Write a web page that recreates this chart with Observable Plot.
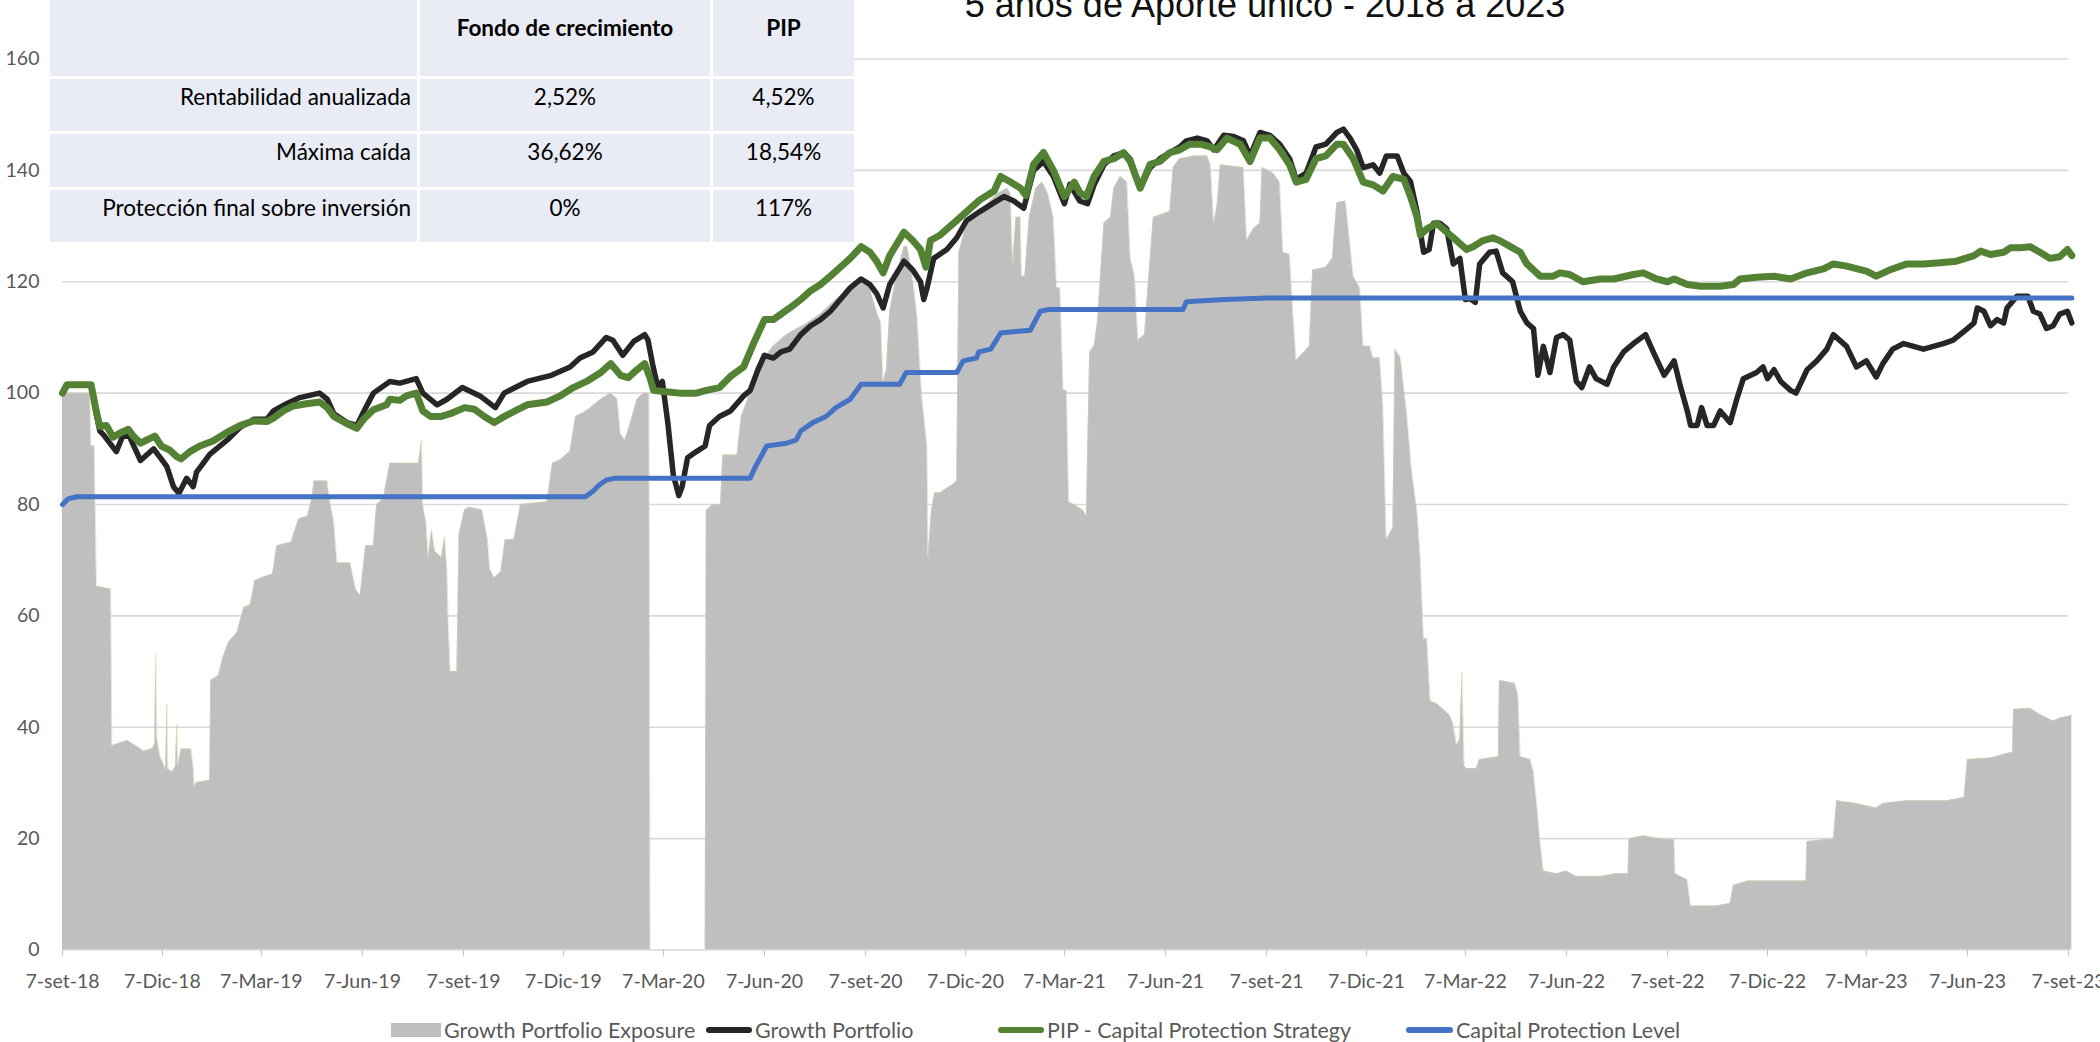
<!DOCTYPE html>
<html>
<head>
<meta charset="utf-8">
<script src="https://cdn.jsdelivr.net/npm/d3@7"></script>
<script src="https://cdn.jsdelivr.net/npm/@observablehq/plot@0.6"></script>
<style>
  body { margin: 0; background: #fff; }
  #wrap { position: relative; width: 2100px; height: 1042px; overflow: hidden; font-family: Lato, "Open Sans", sans-serif; background: #fff; }
  #chart { position: absolute; left: 0; top: 0; }
  #title { position: absolute; left: 865px; width: 800px; top: -13px; text-align: center; font-family: "Liberation Sans", Arial, sans-serif; font-size: 36px; line-height: 36px; color: #111; white-space: nowrap; }
  #table { position: absolute; left: 50px; top: 0; display: grid; grid-template-columns: 367px 290px 141px; grid-template-rows: 76px 52px 53px 52px; gap: 3px; background: #fff; padding: 0 0 3px 0; }
  #table div { background: #e9ebf5; display: flex; align-items: center; font-size: 22.5px; color: #000; }
  #table .lbl { justify-content: flex-end; padding-right: 6px; padding-bottom: 18px; }
  #table .val { justify-content: center; padding-bottom: 18px; }
  #table .hdr { justify-content: center; font-weight: bold; padding-bottom: 22px; }
  .leg { position: absolute; top: 1015px; height: 30px; font-size: 21.5px; color: #595959; white-space: nowrap; line-height: 30px; }
  .sw { position: absolute; }
</style>
</head>
<body>
<div id="wrap">
  <div id="chart"></div>
  <div id="table"></div>
  <div id="title"></div>
  <div id="legend"></div>
</div>
<script>
// ---------- data ----------
const chartTitle = "5 años de Aporte único - 2018 a 2023";

const tickDates = ["2018-09-07","2018-12-07","2019-03-07","2019-06-07","2019-09-07","2019-12-07","2020-03-07","2020-06-07","2020-09-07","2020-12-07","2021-03-07","2021-06-07","2021-09-07","2021-12-07","2022-03-07","2022-06-07","2022-09-07","2022-12-07","2023-03-07","2023-06-07","2023-09-07"];
const tickLabels = ["7-set-18","7-Dic-18","7-Mar-19","7-Jun-19","7-set-19","7-Dic-19","7-Mar-20","7-Jun-20","7-set-20","7-Dic-20","7-Mar-21","7-Jun-21","7-set-21","7-Dic-21","7-Mar-22","7-Jun-22","7-set-22","7-Dic-22","7-Mar-23","7-Jun-23","7-set-23"];
const yTicks = [0,20,40,60,80,100,120,140,160];

const seriesNames = ["Growth Portfolio Exposure","Growth Portfolio","PIP - Capital Protection Strategy","Capital Protection Level"];
const seriesColors = ["#bfbfbf","#262626","#548235","#4472c4"];

const tableHeader = ["", "Fondo de crecimiento", "PIP"];
const tableRowLabels = ["Rentabilidad anualizada","Máxima caída","Protección final sobre inversión"];
const tableFondo = ["2,52%","36,62%","0%"];
const tablePip = ["4,52%","18,54%","117%"];

const exposureSeries = [["2018-09-07",100],["2018-10-02",100],["2018-10-03",90.5],["2018-10-06",90.5],["2018-10-08",65.3],["2018-10-21",64.8],["2018-10-22",36.7],["2018-11-05",37.6],["2018-11-15",36.4],["2018-11-20",35.7],["2018-11-28",36.2],["2018-11-30",37],["2018-12-01",53],["2018-12-02",38],["2018-12-05",34.6],["2018-12-10",32.5],["2018-12-11",44.2],["2018-12-12",32.5],["2018-12-16",32],["2018-12-19",33],["2018-12-20",40.6],["2018-12-21",33],["2018-12-24",36.1],["2019-01-02",36.1],["2019-01-04",33],["2019-01-05",29.3],["2019-01-07",30.1],["2019-01-19",30.5],["2019-01-20",48.4],["2019-01-27",49.3],["2019-01-31",52.5],["2019-02-05",55.2],["2019-02-13",57],["2019-02-19",61.5],["2019-02-25",62],["2019-03-01",66.3],["2019-03-08",66.9],["2019-03-17",67.5],["2019-03-18",68.4],["2019-03-21",72.6],["2019-04-03",73.2],["2019-04-10",77.4],["2019-04-18",77.9],["2019-04-22",81],["2019-04-24",84.2],["2019-05-06",84.2],["2019-05-08",81],["2019-05-12",76.8],["2019-05-15",69.5],["2019-05-27",69.5],["2019-06-01",64.7],["2019-06-05",63.7],["2019-06-10",72.6],["2019-06-17",72.6],["2019-06-20",80],["2019-06-26",81],["2019-07-02",87.4],["2019-07-28",87.4],["2019-07-31",91.6],["2019-08-01",80],["2019-08-04",76.8],["2019-08-06",70.5],["2019-08-09",75.5],["2019-08-12",71.6],["2019-08-18",70.5],["2019-08-21",74.2],["2019-08-23",68.4],["2019-08-24",60],["2019-08-26",50],["2019-09-01",50],["2019-09-03",74.7],["2019-09-08",79],["2019-09-12",79.5],["2019-09-24",79],["2019-09-29",73.7],["2019-10-01",68.4],["2019-10-05",66.8],["2019-10-11",67.9],["2019-10-15",73.7],["2019-10-23",73.7],["2019-10-29",80],["2019-11-22",80.5],["2019-11-27",87.4],["2019-12-04",88],["2019-12-13",89.5],["2019-12-18",95.8],["2019-12-28",96.8],["2020-01-10",98.9],["2020-01-19",100],["2020-01-25",98.9],["2020-01-28",92.6],["2020-02-01",91.6],["2020-02-06",94.7],["2020-02-12",98.9],["2020-02-18",100],["2020-02-23",100],["2020-02-24",0],["2020-04-14",0],["2020-04-15",78.9],["2020-04-21",80],["2020-04-28",80],["2020-04-30",88.9],["2020-05-13",88.9],["2020-05-17",95.8],["2020-05-21",97.9],["2020-06-03",105.3],["2020-06-15",108.4],["2020-06-27",110.5],["2020-07-16",112.6],["2020-07-28",114.2],["2020-08-11",116.8],["2020-08-24",118.9],["2020-09-03",121],["2020-09-11",118.9],["2020-09-17",114.7],["2020-09-21",112.6],["2020-09-23",102.1],["2020-09-26",104.2],["2020-09-29",114.7],["2020-10-05",121],["2020-10-12",126.3],["2020-10-15",126.3],["2020-10-19",122.1],["2020-10-24",113.7],["2020-10-28",100],["2020-11-02",90.5],["2020-11-03",70.5],["2020-11-06",78.9],["2020-11-09",82.1],["2020-11-14",82.1],["2020-11-26",83.7],["2020-11-29",84.2],["2020-12-01",125.3],["2020-12-08",130.5],["2020-12-20",132.6],["2021-01-05",135.8],["2021-01-14",136.8],["2021-01-17",135.8],["2021-01-19",123.2],["2021-01-22",131.6],["2021-01-26",131.6],["2021-01-27",121],["2021-01-30",121],["2021-02-03",131.6],["2021-02-09",136.8],["2021-02-15",137.9],["2021-02-20",135.8],["2021-02-25",131.6],["2021-02-28",118.9],["2021-03-03",118.9],["2021-03-06",100.5],["2021-03-09",100.5],["2021-03-11",80.5],["2021-03-24",79],["2021-03-27",77.9],["2021-03-30",107.4],["2021-04-03",108.4],["2021-04-06",112.6],["2021-04-12",130.5],["2021-04-18",131.6],["2021-04-21",136.8],["2021-04-27",138.9],["2021-05-03",137.9],["2021-05-06",124.2],["2021-05-10",121],["2021-05-13",109.5],["2021-05-19",110.5],["2021-05-22",118.9],["2021-05-27",131.6],["2021-06-11",132.6],["2021-06-14",140.5],["2021-06-20",142.1],["2021-07-03",142.6],["2021-07-15",142.6],["2021-07-18",141],["2021-07-21",130.5],["2021-07-24",133.7],["2021-07-27",141],["2021-08-17",140.5],["2021-08-20",127.4],["2021-08-26",129.5],["2021-09-01",130.5],["2021-09-03",140.5],["2021-09-13",139.5],["2021-09-19",137.9],["2021-09-22",125.3],["2021-09-28",124.9],["2021-10-01",114.7],["2021-10-04",105.8],["2021-10-16",108.4],["2021-10-19",122.1],["2021-10-31",122.6],["2021-11-06",124.2],["2021-11-10",134.2],["2021-11-18",134.5],["2021-11-25",121],["2021-12-01",118.9],["2021-12-04",108.4],["2021-12-10",108.4],["2021-12-13",106.3],["2021-12-19",106.3],["2021-12-22",97.9],["2021-12-25",73.7],["2021-12-31",75.8],["2022-01-02",107.9],["2022-01-07",106.3],["2022-01-10",101],["2022-01-13",95.8],["2022-01-17",86.3],["2022-01-22",78.9],["2022-01-25",70.5],["2022-01-28",55.8],["2022-01-31",56],["2022-02-03",44.7],["2022-02-09",44.2],["2022-02-15",43.2],["2022-02-21",42.1],["2022-02-24",40.5],["2022-02-27",36.8],["2022-03-02",37.8],["2022-03-04",50],["2022-03-06",33],["2022-03-08",32.6],["2022-03-17",32.6],["2022-03-20",34.2],["2022-04-06",34.7],["2022-04-07",48.4],["2022-04-21",47.9],["2022-04-24",45.8],["2022-04-26",34.7],["2022-05-05",34.2],["2022-05-08",32.1],["2022-05-11",26.3],["2022-05-14",19.5],["2022-05-17",14.2],["2022-05-29",13.7],["2022-06-07",14.2],["2022-06-16",13.2],["2022-07-08",13.2],["2022-07-22",13.7],["2022-08-02",13.7],["2022-08-03",20],["2022-08-16",20.5],["2022-08-31",20],["2022-09-13",19.8],["2022-09-14",13.7],["2022-09-25",12.6],["2022-09-28",7.9],["2022-10-07",7.9],["2022-10-22",7.9],["2022-11-03",8.4],["2022-11-06",11.6],["2022-11-19",12.4],["2022-12-01",12.4],["2023-01-11",12.4],["2023-01-12",19.5],["2023-02-05",20],["2023-02-08",26.8],["2023-02-26",26.3],["2023-03-16",25.5],["2023-03-22",26.3],["2023-04-13",26.8],["2023-05-19",26.8],["2023-06-04",27.4],["2023-06-07",34.2],["2023-06-28",34.5],["2023-07-13",35.3],["2023-07-18",35.5],["2023-07-19",43.2],["2023-08-03",43.4],["2023-08-12",42.3],["2023-08-24",41.1],["2023-08-30",41.6],["2023-09-10",42.1]];

const growthSeries = [["2018-09-07",100],["2018-09-11",101.5],["2018-10-03",101.5],["2018-10-08",96],["2018-10-11",93.2],["2018-10-14",92.6],["2018-10-26",89.5],["2018-11-01",92.4],["2018-11-07",92.2],["2018-11-17",87.9],["2018-11-29",90],["2018-12-05",88.4],["2018-12-11",86.8],["2018-12-17",83.2],["2018-12-22",82],["2018-12-29",84.7],["2019-01-04",83.2],["2019-01-07",85.8],["2019-01-13",87.4],["2019-01-19",89],["2019-02-04",91.6],["2019-02-16",93.9],["2019-02-28",95.3],["2019-03-12",95.3],["2019-03-18",96.8],["2019-03-30",98.1],["2019-04-11",99.2],["2019-04-29",100],["2019-05-06",98.9],["2019-05-12",96.3],["2019-05-24",94.7],["2019-06-02",94.2],["2019-06-08",96.6],["2019-06-17",100],["2019-07-02",102.1],["2019-07-11",101.8],["2019-07-26",102.6],["2019-08-01",100],["2019-08-14",97.9],["2019-08-23",98.9],["2019-09-06",101],["2019-09-22",99.5],["2019-10-06",97.4],["2019-10-14",100],["2019-11-04",102.1],["2019-11-26",103.2],["2019-12-13",104.7],["2019-12-22",106.3],["2020-01-03",107.4],["2020-01-15",110],["2020-01-21",109.5],["2020-01-30",106.8],["2020-02-09",109.3],["2020-02-19",110.5],["2020-02-22",109.5],["2020-02-26",105.3],["2020-03-02",101],["2020-03-06",102.1],["2020-03-11",94.7],["2020-03-16",85.3],["2020-03-21",81.6],["2020-03-24",83.2],["2020-03-29",88.4],["2020-04-06",89.5],["2020-04-14",90.5],["2020-04-18",94.2],["2020-04-27",95.8],["2020-05-07",96.8],["2020-05-19",99.5],["2020-05-25",100.5],["2020-06-01",104.2],["2020-06-07",106.8],["2020-06-15",106.3],["2020-06-22",107.4],["2020-06-30",107.9],["2020-07-10",110.5],["2020-07-19",112.1],["2020-07-28",113.2],["2020-08-06",114.7],["2020-08-15",116.8],["2020-08-24",118.9],["2020-09-03",120.5],["2020-09-11",119.5],["2020-09-17",117.9],["2020-09-23",115.3],["2020-09-29",119.5],["2020-10-12",123.7],["2020-10-20",122.1],["2020-10-27",120],["2020-10-30",116.8],["2020-11-02",118.9],["2020-11-08",124.2],["2020-11-20",125.8],["2020-11-29",127.9],["2020-12-08",131],["2020-12-20",132.6],["2021-01-02",134.2],["2021-01-11",135.3],["2021-01-20",134.5],["2021-01-29",133.2],["2021-02-07",140],["2021-02-16",141.6],["2021-02-25",138.9],["2021-03-07",134],["2021-03-12",137.5],["2021-03-21",134.5],["2021-03-28",134],["2021-04-03",137.4],["2021-04-12",141],["2021-04-21",142.6],["2021-04-30",143.2],["2021-05-06",142],["2021-05-15",136.8],["2021-05-24",140.5],["2021-06-02",142.1],["2021-06-11",143.2],["2021-06-20",144.2],["2021-06-26",145.3],["2021-07-06",145.8],["2021-07-15",145.3],["2021-07-21",143.7],["2021-07-30",146.3],["2021-08-08",146.1],["2021-08-17",145.3],["2021-08-23",142.6],["2021-09-01",146.8],["2021-09-10",146.3],["2021-09-19",144.7],["2021-09-28",142.1],["2021-10-04",138.4],["2021-10-13",139.5],["2021-10-22",144.2],["2021-10-31",144.7],["2021-11-10",146.8],["2021-11-16",147.4],["2021-11-22",145.8],["2021-11-28",143.7],["2021-12-04",140.5],["2021-12-13",141],["2021-12-19",139.5],["2021-12-25",142.6],["2022-01-04",142.6],["2022-01-10",139.5],["2022-01-16",138],["2022-01-22",132.6],["2022-01-28",125.3],["2022-02-02",125.8],["2022-02-06",130.5],["2022-02-12",130.5],["2022-02-18",129.5],["2022-02-24",123.2],["2022-03-02",124.2],["2022-03-07",116.8],["2022-03-11",117],["2022-03-16",116.3],["2022-03-20",123.2],["2022-03-29",125.3],["2022-04-04",125.5],["2022-04-10",121.6],["2022-04-19",120],["2022-04-26",114.7],["2022-05-02",112.6],["2022-05-08",111.6],["2022-05-12",103.2],["2022-05-17",108.4],["2022-05-23",103.7],["2022-05-29",110],["2022-06-04",110.5],["2022-06-10",109.5],["2022-06-16",102.1],["2022-06-21",101],["2022-06-28",104.7],["2022-07-04",102.6],["2022-07-14",101.6],["2022-07-20",104.7],["2022-07-29",107.4],["2022-08-07",108.9],["2022-08-18",110.5],["2022-08-25",107.4],["2022-09-04",103.2],["2022-09-13",105.8],["2022-09-19",101],["2022-09-25",96.8],["2022-09-28",94.2],["2022-10-04",94.2],["2022-10-08",97.4],["2022-10-13",94.2],["2022-10-19",94.2],["2022-10-25",96.8],["2022-11-03",94.7],["2022-11-09",98.9],["2022-11-15",102.6],["2022-11-27",103.7],["2022-12-03",104.7],["2022-12-07",102.6],["2022-12-13",104.2],["2022-12-19",102.1],["2022-12-28",100.5],["2023-01-02",100],["2023-01-12",104.2],["2023-01-21",105.8],["2023-01-30",107.9],["2023-02-05",110.5],["2023-02-17",108.4],["2023-02-26",104.7],["2023-03-07",105.8],["2023-03-16",102.9],["2023-03-22",105.3],["2023-03-31",107.9],["2023-04-10",108.9],["2023-04-28",107.9],["2023-05-16",108.9],["2023-05-25",109.5],["2023-06-07",111.6],["2023-06-13",112.6],["2023-06-16",115.3],["2023-06-22",114.7],["2023-06-28",112.1],["2023-07-04",113.2],["2023-07-10",112.6],["2023-07-13",115.3],["2023-07-22",117.4],["2023-08-01",117.4],["2023-08-06",114.7],["2023-08-12",114.2],["2023-08-18",111.6],["2023-08-24",112.1],["2023-08-30",114.2],["2023-09-06",114.7],["2023-09-10",112.6]];

const pipSeries = [["2018-09-07",100],["2018-09-11",101.5],["2018-10-03",101.5],["2018-10-08",96.5],["2018-10-11",94],["2018-10-17",94.2],["2018-10-23",92.1],["2018-10-29",92.8],["2018-11-06",93.5],["2018-11-10",92.4],["2018-11-17",91],["2018-11-23",91.6],["2018-11-30",92.3],["2018-12-06",90.5],["2018-12-14",89.7],["2018-12-20",88.6],["2018-12-24",88.2],["2019-01-01",89.5],["2019-01-10",90.5],["2019-01-22",91.4],["2019-02-04",93],["2019-02-16",94.2],["2019-02-28",95],["2019-03-12",94.9],["2019-03-18",95.5],["2019-03-27",96.8],["2019-04-05",97.7],["2019-04-17",98.1],["2019-04-29",98.4],["2019-05-06",97.4],["2019-05-12",95.8],["2019-05-24",94.5],["2019-06-02",93.7],["2019-06-08",95.3],["2019-06-17",97],["2019-06-29",97.9],["2019-07-02",98.9],["2019-07-11",98.7],["2019-07-17",99.5],["2019-07-26",100],["2019-08-01",96.8],["2019-08-08",95.8],["2019-08-17",95.8],["2019-08-26",96.3],["2019-09-08",97.4],["2019-09-17",97.1],["2019-09-26",95.8],["2019-10-05",94.7],["2019-10-14",95.8],["2019-10-24",96.8],["2019-11-04",97.9],["2019-11-22",98.4],["2019-12-04",99.5],["2019-12-16",101],["2019-12-28",102.1],["2020-01-10",103.7],["2020-01-19",105.3],["2020-01-28",103.2],["2020-02-04",102.8],["2020-02-12",104.2],["2020-02-19",105.3],["2020-02-24",102.6],["2020-02-27",100.5],["2020-03-07",100.3],["2020-03-22",100],["2020-04-06",100],["2020-04-15",100.5],["2020-04-27",101],["2020-05-07",103],["2020-05-19",104.7],["2020-05-28",108.9],["2020-06-07",113.2],["2020-06-15",113.2],["2020-06-22",114.2],["2020-06-30",115.3],["2020-07-10",116.8],["2020-07-19",118.4],["2020-07-28",119.5],["2020-08-06",121],["2020-08-15",122.6],["2020-08-24",124.2],["2020-09-03",126.3],["2020-09-11",125.3],["2020-09-17",123.7],["2020-09-23",121.6],["2020-09-29",124.7],["2020-10-12",128.9],["2020-10-20",127.4],["2020-10-27",125.8],["2020-11-01",122.6],["2020-11-05",127.4],["2020-11-14",128.4],["2020-11-26",130.5],["2020-12-08",132.6],["2020-12-20",134.7],["2021-01-02",136.3],["2021-01-08",138.9],["2021-01-17",137.9],["2021-01-26",136.8],["2021-01-31",135.5],["2021-02-07",141.1],["2021-02-16",143.2],["2021-02-25",140],["2021-03-07",135.3],["2021-03-16",137.9],["2021-03-21",136],["2021-03-27",135.3],["2021-04-03",138.9],["2021-04-12",141.6],["2021-04-21",142.1],["2021-04-30",143.2],["2021-05-06",141.6],["2021-05-15",136.8],["2021-05-24",141.1],["2021-06-02",141.6],["2021-06-11",143.2],["2021-06-20",143.7],["2021-06-29",144.7],["2021-07-09",144.7],["2021-07-18",144.2],["2021-07-24",143.7],["2021-08-02",145.8],["2021-08-14",144.7],["2021-08-23",141.6],["2021-09-01",145.8],["2021-09-10",145.8],["2021-09-19",143.7],["2021-09-28",141],["2021-10-04",137.9],["2021-10-13",138.4],["2021-10-22",142.1],["2021-10-31",142.6],["2021-11-10",144.7],["2021-11-16",144.7],["2021-11-25",142.1],["2021-12-04",137.9],["2021-12-13",137.4],["2021-12-22",136.3],["2021-12-31",138.9],["2022-01-10",138.4],["2022-01-16",135.3],["2022-01-22",131.6],["2022-01-25",128.4],["2022-01-31",129.5],["2022-02-09",130.5],["2022-02-18",128.9],["2022-02-27",127.4],["2022-03-08",125.8],["2022-03-14",126.3],["2022-03-23",127.4],["2022-04-01",127.9],["2022-04-07",127.4],["2022-04-17",126.3],["2022-04-26",125.3],["2022-05-02",123.2],["2022-05-14",121],["2022-05-26",121],["2022-06-01",121.6],["2022-06-10",121.3],["2022-06-22",120],["2022-07-08",120.5],["2022-07-20",120.5],["2022-08-07",121.3],["2022-08-16",121.6],["2022-08-28",120.5],["2022-09-07",120],["2022-09-13",120.5],["2022-09-25",119.5],["2022-10-07",119.2],["2022-10-25",119.2],["2022-11-06",119.5],["2022-11-12",120.5],["2022-11-27",120.8],["2022-12-13",121],["2022-12-28",120.5],["2023-01-12",121.6],["2023-01-27",122.3],["2023-02-05",123.2],["2023-02-17",122.8],["2023-03-07",121.9],["2023-03-16",121],["2023-03-28",122.1],["2023-04-13",123.2],["2023-04-28",123.2],["2023-05-13",123.4],["2023-05-28",123.7],["2023-06-13",124.7],["2023-06-19",125.5],["2023-06-28",124.9],["2023-07-10",125.3],["2023-07-16",126.1],["2023-07-25",126.1],["2023-08-03",126.3],["2023-08-12",125.3],["2023-08-21",124.2],["2023-08-30",124.5],["2023-09-06",125.8],["2023-09-10",124.7]];

const protectionSeries = [["2018-09-07",80],["2018-09-12",81.0],["2018-09-20",81.4],["2019-12-27",81.4],["2020-01-03",82.4],["2020-01-08",83.4],["2020-01-15",84.4],["2020-01-22",84.7],["2020-05-25",84.7],["2020-05-29",86.5],["2020-06-09",90.5],["2020-06-27",91],["2020-07-06",91.6],["2020-07-10",93.2],["2020-07-21",94.7],["2020-08-02",95.8],["2020-08-11",97.4],["2020-08-24",98.9],["2020-08-30",100.5],["2020-09-03",101.6],["2020-10-08",101.6],["2020-10-14",103.7],["2020-11-29",103.7],["2020-12-05",105.8],["2020-12-17",106.3],["2020-12-19",107.4],["2020-12-30",107.9],["2021-01-08",110.8],["2021-02-04",111.3],["2021-02-13",114.7],["2021-02-20",115],["2021-06-23",115],["2021-06-26",116.4],["2021-07-30",116.8],["2021-09-08",117.1],["2023-09-10",117.1]];

// ---------- build ----------
const parse = d3.utcParse("%Y-%m-%d");
const toRows = s => s.map(([d, v]) => ({date: parse(d), value: v}));
const exposure = toRows(exposureSeries);
const growth = toRows(growthSeries);
const pip = toRows(pipSeries);
const protection = toRows(protectionSeries);
const ticks = tickDates.map(parse);
const labelOf = new Map(ticks.map((d, i) => [+d, tickLabels[i]]));

const plot = Plot.plot({
  width: 2100,
  height: 1000,
  marginLeft: 62,
  marginRight: 32,
  marginTop: 58.5,
  marginBottom: 50.5,
  style: {fontFamily: "Lato, sans-serif", fontSize: "19px", background: "transparent", overflow: "visible"},
  x: {type: "utc", domain: [ticks[0], ticks[ticks.length - 1]]},
  y: {domain: [0, 160]},
  marks: [
    Plot.ruleY(yTicks.filter(v => v > 0), {stroke: "#d9d9d9", strokeWidth: 1.6}),
    Plot.areaY(exposure, {x: "date", y: "value", fill: seriesColors[0], curve: "linear"}),
    Plot.lineY(exposure, {x: "date", y: "value", stroke: "#ddd3a8", strokeWidth: 0.8, strokeOpacity: 0.6}),
    Plot.ruleY([0], {stroke: "#d9d9d9", strokeWidth: 1.6}),
    Plot.axisX({ticks, tickFormat: d => labelOf.get(+d), tickSize: 6, tickPadding: 18, stroke: "#bfbfbf", fill: "#595959", label: null, fontSize: 19.5}),
    Plot.axisY({ticks: yTicks, tickSize: 0, tickPadding: 23, fill: "#595959", label: null, fontSize: 19.5}),
    Plot.lineY(growth, {x: "date", y: "value", stroke: seriesColors[1], strokeWidth: 5.5, strokeLinejoin: "round"}),
    Plot.lineY(pip, {x: "date", y: "value", stroke: seriesColors[2], strokeWidth: 7, strokeLinejoin: "round"}),
    Plot.lineY(protection, {x: "date", y: "value", stroke: seriesColors[3], strokeWidth: 5, strokeLinejoin: "round"})
  ]
});
document.getElementById("chart").appendChild(plot);

// title
document.getElementById("title").textContent = chartTitle;

// table
const tbl = document.getElementById("table");
const addCell = (text, cls) => { const c = document.createElement("div"); c.className = cls; c.textContent = text; tbl.appendChild(c); };
tableHeader.forEach(h => addCell(h, "hdr"));
tableRowLabels.forEach((r, i) => { addCell(r, "lbl"); addCell(tableFondo[i], "val"); addCell(tablePip[i], "val"); });

// legend
const legendX = [391, 706, 998, 1406];
const swatchW = [50, 46, 46, 47];
const leg = document.getElementById("legend");
seriesNames.forEach((name, i) => {
  const item = document.createElement("div");
  item.className = "leg";
  item.style.left = legendX[i] + "px";
  const sw = document.createElement("div");
  sw.className = "sw";
  if (i === 0) {
    Object.assign(sw.style, {left: "0px", top: "8px", width: swatchW[i] + "px", height: "14px", background: seriesColors[i]});
  } else {
    Object.assign(sw.style, {left: "0px", top: "12px", width: swatchW[i] + "px", height: "6px", background: seriesColors[i], borderRadius: "3px"});
  }
  item.appendChild(sw);
  const t = document.createElement("span");
  t.textContent = name;
  t.style.marginLeft = (swatchW[i] + 3) + "px";
  item.appendChild(t);
  leg.appendChild(item);
});
</script>
</body>
</html>
